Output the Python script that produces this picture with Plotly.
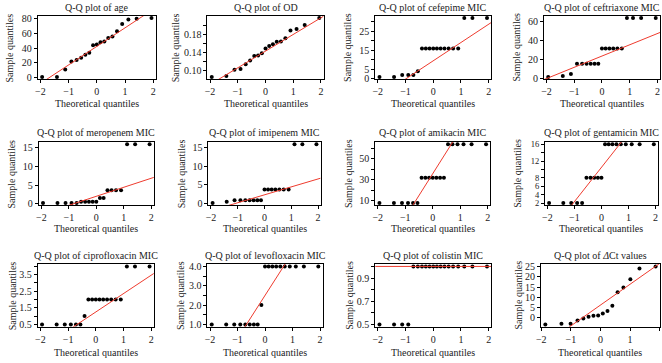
import plotly.graph_objects as go
import numpy as np
from statistics import NormalDist

# Theoretical normal quantiles (n = 19 and n = 16)
THEO19 = [-1.938, -1.412, -1.119, -0.900, -0.716, -0.555, -0.406, -0.267, -0.132, 0.0,
          0.132, 0.267, 0.406, 0.555, 0.716, 0.900, 1.119, 1.412, 1.938]
THEO16 = [-1.863, -1.318, -1.010, -0.776, -0.579, -0.402, -0.237, -0.078,
          0.078, 0.237, 0.402, 0.579, 0.776, 1.010, 1.318, 1.863]

age = [1, 1, 11, 22, 24, 27, 31, 34, 44, 45, 48, 49, 54, 56, 63, 73, 79, 80, 81]
od = [0.0853, 0.0874, 0.1014, 0.1028, 0.1133, 0.1218, 0.1316, 0.1330, 0.1380, 0.1484,
      0.1540, 0.1576, 0.1632, 0.1639, 0.1710, 0.1885, 0.1913, 0.2004, 0.2158]
cefepime = [1, 1, 2, 2, 2, 4, 16, 16, 16, 16, 16, 16, 16, 16, 16, 16, 32, 32, 32]
ceftriaxone = [2, 3, 5, 16, 16, 16, 16, 16, 16, 32, 32, 32, 32, 32, 32, 64, 64, 64, 64]
meropenem = [0.125, 0.125, 0.125, 0.125, 0.125, 0.5, 0.5, 0.5, 0.5, 0.5,
             1.5, 1.5, 3.6, 3.6, 3.6, 3.6, 16, 16, 16]
imipenem = [0.06, 0.4, 0.85, 0.85, 0.85, 0.85, 0.85, 0.85, 0.85, 3.75,
            3.75, 3.75, 3.75, 3.75, 3.75, 3.75, 16, 16, 16]
amikacin = [8, 8, 8, 8, 8, 8, 32, 32, 32, 32, 32, 32, 32, 64, 64, 64, 64, 64, 64]
gentamicin = [2, 2, 2, 2, 2, 8, 8, 8, 8, 8, 16, 16, 16, 16, 16, 16, 16, 16, 16]
ciprofloxacin = [0.5, 0.5, 0.5, 0.5, 0.5, 0.5, 1, 2, 2, 2, 2, 2, 2, 2, 2, 2, 4, 4, 4]
levofloxacin = [1, 1, 1, 1, 1, 1, 1, 1, 2, 4, 4, 4, 4, 4, 4, 4, 4, 4, 4]
colistin = [0.5, 0.5, 0.5, 0.5, 1, 1, 1, 1, 1, 1, 1, 1, 1, 1, 1, 1, 1, 1, 1]
delta_ct = [-3.1, -2.8, -2.8, -1.25, -0.3, 0.6, 1.1, 1.25, 2.2, 3.4, 5.9, 12.5, 14.8, 18.75, 24, 25]

titles = ["Q-Q plot of age", "Q-Q plot of OD", "Q-Q plot of cefepime MIC", "Q-Q plot of ceftriaxone MIC",
          "Q-Q plot of meropenem MIC", "Q-Q plot of imipenem MIC", "Q-Q plot of amikacin MIC",
          "Q-Q plot of gentamicin MIC", "Q-Q plot of ciprofloxacin MIC", "Q-Q plot of levofloxacin MIC",
          "Q-Q plot of colistin MIC", "Q-Q plot of <i>Δ</i>Ct values"]
samples = [age, od, cefepime, ceftriaxone, meropenem, imipenem, amikacin, gentamicin,
           ciprofloxacin, levofloxacin, colistin, delta_ct]
theos = [THEO19] * 11 + [THEO16]

ytick_vals = [[0, 20, 40, 60, 80], [0.10, 0.12, 0.14, 0.16, 0.18, 0.20], [0, 5, 10, 15, 20, 25, 30],
              [0, 20, 40, 60], [0, 5, 10, 15], [0, 5, 10, 15], [10, 20, 30, 40, 50, 60],
              [2, 4, 6, 8, 10, 12, 14, 16], [0.5, 1.0, 1.5, 2.0, 2.5, 3.0, 3.5, 4.0],
              [1.0, 1.5, 2.0, 2.5, 3.0, 3.5, 4.0], [0.5, 0.6, 0.7, 0.8, 0.9, 1.0], [0, 5, 10, 15, 20, 25]]
ytick_text = [["0", "20", "40", "60", "80"], ["0.10", "", "0.14", "", "0.18", ""],
              ["0", "5", "", "15", "", "25", ""], ["0", "20", "40", "60"], ["0", "5", "10", "15"],
              ["0", "5", "10", "15"], ["10", "", "30", "", "50", ""],
              ["2", "4", "6", "8", "", "12", "", "16"], ["0.5", "", "1.5", "", "2.5", "", "3.5", ""],
              ["1.0", "", "2.0", "", "3.0", "", "4.0"], ["0.5", "", "0.7", "", "0.9", ""],
              ["0", "5", "10", "15", "20", "25"]]
ytick_size = [10, 10, 10, 10, 10, 10, 10, 8.5, 10, 10, 10, 10]
xtick_vals = [-2, -1, 0, 1, 2]

# layout geometry (pixels)
W, H = 662, 363
boxes = [(33, 152, 13, 78), (204, 321, 13, 78), (373, 490, 13, 78), (543, 660, 13, 78),
         (34, 150, 142, 207), (205, 318, 142, 207), (373, 489, 142, 207), (544, 658, 142, 207),
         (33, 150, 267, 331), (204, 320, 267, 331), (373, 490, 267, 331), (540, 660, 267, 331)]
ytitle_x = [5, 172, 345, 515, 7, 178, 346, 517, 7, 177, 347, 517]
title_y = [5, 132, 258]
xtitle_y = [103, 231, 357]

FONT = "Liberation Serif"
RED = "#ee3b2e"
TXT = "#222222"
z75 = NormalDist().inv_cdf(0.75)

fig = go.Figure()
annotations = []
for k in range(12):
    vals = sorted(samples[k])
    theo = theos[k]
    sfx = "" if k == 0 else str(k + 1)
    xa, ya = "x" + sfx, "y" + sfx
    xr = [min(theo) - 0.04 * (max(theo) - min(theo)), max(theo) + 0.04 * (max(theo) - min(theo))]
    yspan = max(vals) - min(vals)
    yr = [min(vals) - 0.04 * yspan, max(vals) + 0.04 * yspan]
    fig.add_trace(go.Scatter(x=theo, y=vals, mode="markers", xaxis=xa, yaxis=ya,
                             marker=dict(color="black", size=4), showlegend=False,
                             cliponaxis=False))
    q1, q3 = np.percentile(vals, [25, 75])
    slope = (q3 - q1) / (2 * z75)
    inter = (q1 + q3) / 2
    fig.add_trace(go.Scatter(x=xr, y=[inter + slope * xr[0], inter + slope * xr[1]], mode="lines",
                             xaxis=xa, yaxis=ya, line=dict(color=RED, width=1), showlegend=False))
    l, r, t, b = boxes[k]
    common = dict(showline=True, mirror=True, linecolor="black", linewidth=1, ticks="outside",
                  ticklen=3, tickwidth=1, tickcolor="black", showgrid=False, zeroline=False)
    fig.layout["xaxis" + sfx] = dict(domain=[l / W, r / W], range=xr, anchor=ya,
                                     tickvals=xtick_vals,
                                     tickfont=dict(family=FONT, size=10, color=TXT), **common)
    fig.layout["yaxis" + sfx] = dict(domain=[1 - b / H, 1 - t / H], range=yr, anchor=xa,
                                     tickvals=ytick_vals[k], ticktext=ytick_text[k],
                                     tickfont=dict(family=FONT, size=ytick_size[k], color=TXT),
                                     **common)
    row = k // 4
    annotations.append(dict(text=titles[k], x=(l + r) / 2 / W, y=1 - title_y[row] / H,
                            xref="paper", yref="paper", showarrow=False, xanchor="center",
                            yanchor="middle", font=dict(family=FONT, size=10, color=TXT)))
    annotations.append(dict(text="Theoretical quantiles", x=(l + r) / 2 / W, y=1 - xtitle_y[row] / H,
                            xref="paper", yref="paper", showarrow=False, xanchor="center",
                            yanchor="middle", font=dict(family=FONT, size=10, color=TXT)))
    annotations.append(dict(text="Sample quantiles", x=ytitle_x[k] / W, y=1 - (t + b) / 2 / H,
                            xref="paper", yref="paper", showarrow=False, xanchor="center",
                            yanchor="middle", textangle=-90,
                            font=dict(family=FONT, size=10, color=TXT)))

fig.update_layout(width=W, height=H, margin=dict(l=0, r=0, t=0, b=0), plot_bgcolor="white",
                  paper_bgcolor="white", annotations=annotations)
fig.write_html("out.html")
